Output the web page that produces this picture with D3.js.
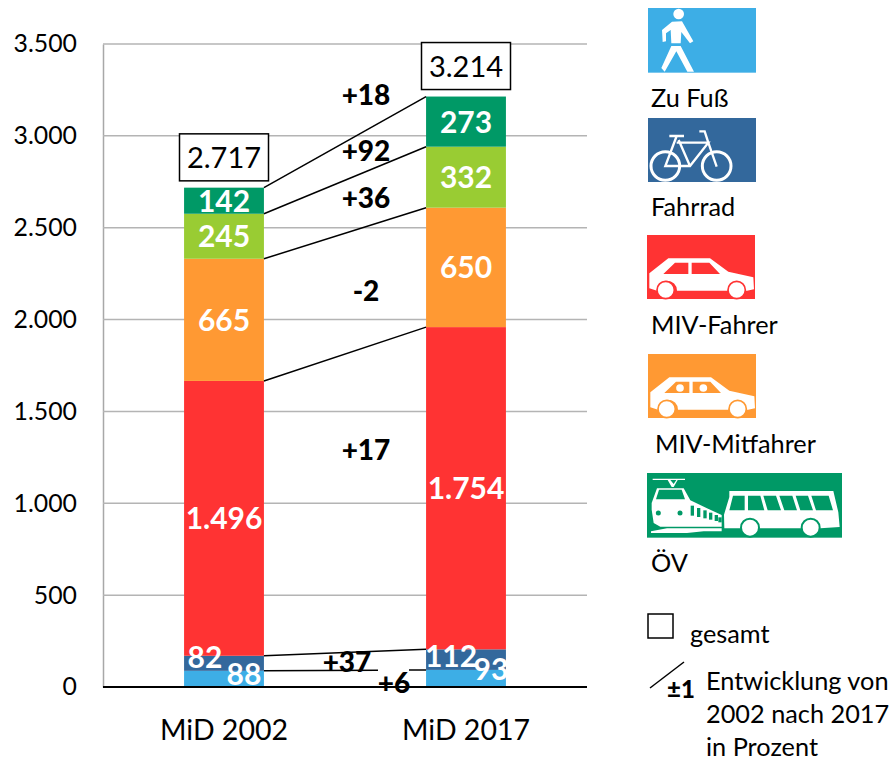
<!DOCTYPE html>
<html><head><meta charset="utf-8">
<script src="https://cdn.jsdelivr.net/npm/d3@7"></script>
<style>html,body{margin:0;padding:0;background:#fff}svg{display:block}text{font-family:Lato,"Open Sans",sans-serif}</style>
</head><body><div id="c"></div>
<script>
const categories = ["MiD 2002", "MiD 2017"];
const seriesNames = ["Zu Fuß", "Fahrrad", "MIV-Fahrer", "MIV-Mitfahrer", "ÖV"];
const zuFuss = [88, 93];
const fahrrad = [82, 112];
const fahrer = [1496, 1754];
const mitfahrer = [665, 650];
const oev = [245, 332];
const oevTop = [142, 273];
const totals = [2717, 3214];
const deltas = ["+6", "+37", "+17", "-2", "+36", "+92", "+18"];
const yTicks = [0, 500, 1000, 1500, 2000, 2500, 3000, 3500];
const colors = ["#3daee6", "#33689c", "#ff3333", "#ff9933", "#99cc33", "#009966"];

const de = d3.formatLocale({decimal: ",", thousands: ".", grouping: [3], currency: ["", "€"]}).format(",d");
const svg = d3.select("#c").append("svg").attr("width", 893).attr("height", 761);
const x = d3.scaleBand().domain(categories).range([103, 587]).paddingInner(0.67).paddingOuter(0.335);
const y = d3.scaleLinear().domain([0, 3500]).range([687, 44]);

// grid and axes
const yAxis = d3.axisLeft(y).tickValues(yTicks).tickSize(0).tickPadding(26).tickFormat(de);
const gy = svg.append("g").attr("transform", "translate(103,0)").call(yAxis);
gy.select(".domain").attr("stroke", "#a8a8a8").attr("stroke-width", 1.5);
gy.selectAll("text").attr("font-size", 24.8).attr("fill", "#000");
svg.append("g").selectAll("line").data(yTicks.slice(1)).join("line")
  .attr("x1", 103).attr("x2", 587).attr("y1", y).attr("y2", y)
  .attr("stroke", "#b4b4b4").attr("stroke-width", 1.5);

// stacks
const rows = [zuFuss, fahrrad, fahrer, mitfahrer, oev, oevTop];
const table = categories.map((c, i) => { const o = {c}; rows.forEach((r, k) => o[k] = r[i]); return o; });
const stack = d3.stack().keys(d3.range(rows.length))(table);
const layers = svg.append("g").selectAll("g").data(stack).join("g").attr("fill", (d, k) => colors[k]);
layers.selectAll("rect").data(d => d).join("rect")
  .attr("x", d => x(d.data.c)).attr("width", x.bandwidth())
  .attr("y", d => y(d[1])).attr("height", d => y(d[0]) - y(d[1]));

svg.append("line").attr("x1", 103).attr("x2", 587).attr("y1", y(0)).attr("y2", y(0)).attr("stroke", "#000").attr("stroke-width", 2);

// category labels
svg.append("g").selectAll("text").data(categories).join("text")
  .attr("x", d => x(d) + x.bandwidth() / 2).attr("y", 740).attr("text-anchor", "middle")
  .attr("font-size", 28.5).attr("fill", "#000").text(d => d);

// value labels, above all segments; the two thin bottom segments have theirs set off to the sides
const nudgeX = {0: [20, 25], 1: [-19, -15]};
const nudgeY = {0: [6, 1.5], 1: [5, 7.5]};
const labelData = stack.flatMap(s => s.map((e, i) => ({e, i, k: s.key})));
svg.append("g").selectAll("text").data(labelData).join("text")
  .attr("x", d => x(d.e.data.c) + x.bandwidth() / 2 + (d.k < 2 ? nudgeX[d.k][d.i] : 0))
  .attr("y", d => (y(d.e[0]) + y(d.e[1])) / 2 + (d.k < 2 ? nudgeY[d.k][d.i] : 11))
  .attr("text-anchor", "middle").attr("font-size", 30).attr("font-weight", 700).attr("fill", "#fff")
  .text(d => de(d.e[1] - d.e[0]));

// connectors
const x0 = x(categories[0]) + x.bandwidth(), x1 = x(categories[1]);
const lineLayers = [1, 2, 3, 4, 5];
svg.append("g").selectAll("line").data(lineLayers).join("line")
  .attr("x1", x0).attr("x2", x1)
  .attr("y1", k => y(stack[k][0][1])).attr("y2", k => y(stack[k][1][1]))
  .attr("stroke", "#000").attr("stroke-width", 1.5);
// the lowest connector is interrupted by its label
const yA = y(stack[0][0][1]), yB = y(stack[0][1][1]);
[[x0, 378], [409, x1]].forEach(([a, b]) => svg.append("line")
  .attr("x1", a).attr("x2", b).attr("y1", yA + (yB - yA) * (a - x0) / (x1 - x0)).attr("y2", yA + (yB - yA) * (b - x0) / (x1 - x0))
  .attr("stroke", "#000").attr("stroke-width", 1.5));

// delta labels
const deltaX = [394, 347, 366, 366, 366, 366, 366];
const deltaY = [693, 672, 460, 301, 208, 161, 105];
svg.append("g").selectAll("text").data(deltas).join("text")
  .attr("x", (d, i) => deltaX[i]).attr("y", (d, i) => deltaY[i]).attr("text-anchor", "middle")
  .attr("font-size", 28).attr("font-weight", 900).attr("fill", "#000").text(d => d);

// total boxes
const tg = svg.append("g").selectAll("g").data(totals).join("g")
  .attr("transform", (d, i) => `translate(${x(categories[i]) + x.bandwidth() / 2},${y(d) - 7})`);
tg.append("rect").attr("x", -44.5).attr("y", -47).attr("width", 89).attr("height", 47)
  .attr("fill", "#fff").attr("stroke", "#000").attr("stroke-width", 1.5);
tg.append("text").attr("y", -13).attr("text-anchor", "middle").attr("font-size", 29).attr("fill", "#000").text(de);

// legend icons
const W = "#fff";
function icon(px, py, w, h, col) {
  const g = svg.append("g").attr("transform", `translate(${px},${py}) scale(${1/3})`);
  g.append("rect").attr("width", w).attr("height", h).attr("fill", col);
  return g;
}
const walker = icon(648, 8, 324, 194, colors[0]);
walker.append("circle").attr("cx", 92).attr("cy", 18).attr("r", 16).attr("fill", W);
walker.append("path").attr("fill", W).attr("d", "M72 41L102 40L136 100L126 106L100 72L98 106L70 106L68 66L54 76L54 100L44 102L42 66ZM70 114L98 114L138 191L118 191L85 130L50 191L40 180Z");
const bike = icon(648, 118, 324, 192, colors[1]);
bike.append("g").attr("fill", "none").attr("stroke", W).attr("stroke-width", 9).call(g => {
  g.append("circle").attr("cx", 52).attr("cy", 144).attr("r", 43);
  g.append("circle").attr("cx", 206).attr("cy", 144).attr("r", 43);
  g.append("path").attr("stroke-width", 7).attr("d", "M64 54H108M86 54L52 144H126L181 74H86M92 66L126 144M154 40H170L181 74L206 146");
});
function car(col, passengers) {
  return g => {
    g.append("path").attr("fill", W).attr("d", "M7 115L64 70H189L244 110L319 127L321 163L300 167L270 167A28 28 0 0 0 240 167H90A28 28 0 0 0 30 167L7 160Z");
    g.append("path").attr("fill", col).attr("d", "M49 117L84 83H124V117ZM134 83H187L219 117H134Z");
    g.append("g").selectAll("circle").data([56, 269]).join("circle").attr("cx", d => d).attr("cy", 165).attr("r", 26).attr("fill", W).attr("stroke", col).attr("stroke-width", 5);
    if (passengers) g.append("g").selectAll("circle").data([96, 166]).join("circle").attr("cx", d => d).attr("cy", 102).attr("r", 11.5).attr("fill", W);
  };
}
icon(647, 235, 324, 192, colors[2]).call(car(colors[2], false));
icon(648, 354, 324, 192, colors[3]).call(car(colors[3], true));
const pt = icon(647, 473, 585, 194, colors[5]);
pt.append("path").attr("fill", W).attr("d", "M14 110V90L30 46H110L130 82L180 106L224 126V161H40L20 150ZM12 175L60 166H224V175H170L120 180H12ZM17 17H114V21H70L80 33L88 21H92L80 42H74L62 21H17Z");
pt.append("path").attr("fill", colors[5]).attr("d", "M27 79L36 50H104L114 79Z");
pt.append("g").selectAll("circle").data([34, 99]).join("circle").attr("cx", d => d).attr("cy", 120).attr("r", 7.5).attr("fill", colors[5]);
pt.append("g").selectAll("rect").data([131, 150, 169, 186, 203, 214]).join("rect").attr("x", d => d).attr("y", (d, i) => 98 + i * 7).attr("width", 10).attr("height", (d, i) => 30 - i * 3).attr("fill", colors[5]);
pt.append("path").attr("fill", W).attr("d", "M247 54H559L574 118L578 162L520 166H232L231 125L247 72Z");
pt.append("path").attr("fill", colors[5]).attr("d", "M258 68H293V112H247ZM303 68H340L352 112H303ZM349 68H387L402 112H362ZM397 68H436L450 112H412ZM446 68H483L498 112H460ZM493 68H545L558 112H507Z");
pt.append("g").selectAll("circle").data([309, 491]).join("circle").attr("cx", d => d).attr("cy", 164).attr("r", 27).attr("fill", W).attr("stroke", colors[5]).attr("stroke-width", 6);

// legend text
const legendX = [651, 651, 651, 655, 651];
const legendY = [107, 216, 334, 453, 572];
svg.append("g").selectAll("text").data(seriesNames).join("text")
  .attr("x", (d, i) => legendX[i]).attr("y", (d, i) => legendY[i]).attr("font-size", 25.3).attr("fill", "#000").text(d => d);
svg.append("rect").attr("x", 648).attr("y", 614).attr("width", 25).attr("height", 24).attr("fill", "#fff").attr("stroke", "#000").attr("stroke-width", 1.5);
svg.append("text").attr("x", 690).attr("y", 643).attr("font-size", 25.3).text("gesamt");
svg.append("line").attr("x1", 650).attr("y1", 688).attr("x2", 684).attr("y2", 662).attr("stroke", "#000").attr("stroke-width", 1.5);
svg.append("text").attr("x", 667).attr("y", 698).attr("font-size", 24).attr("font-weight", 900).text("±1");
[["Entwicklung von", 690], ["2002 nach 2017", 723], ["in Prozent", 756]].forEach(([t, b]) =>
  svg.append("text").attr("x", 706).attr("y", b).attr("font-size", 25.3).text(t));
</script></body></html>
